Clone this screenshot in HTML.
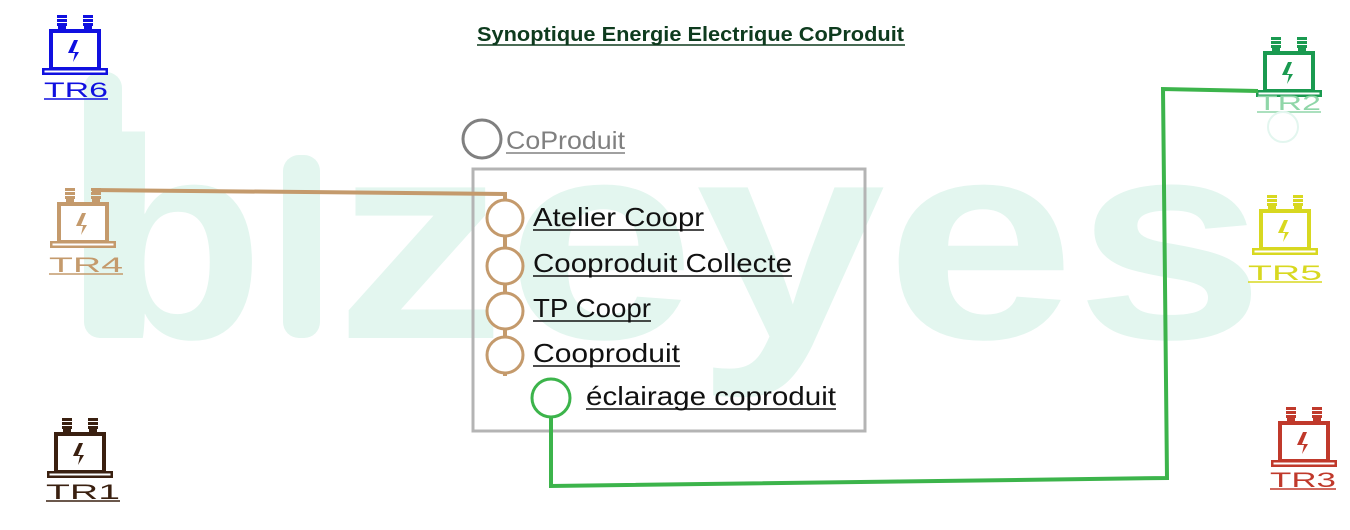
<!DOCTYPE html>
<html><head><meta charset="utf-8"><style>
body{margin:0;width:1350px;height:530px;background:#fff;overflow:hidden;font-family:"Liberation Sans",sans-serif}
svg{position:absolute;left:0;top:0}
</style></head><body>
<svg width="1350" height="530" viewBox="0 0 1350 530">
<defs>
<g id="tr">
<rect x="15" y="0" width="10" height="3"/><rect x="15" y="4" width="10" height="3"/><rect x="15" y="8" width="10" height="3"/><rect x="16" y="11" width="8" height="5"/>
<rect x="41" y="0" width="10" height="3"/><rect x="41" y="4" width="10" height="3"/><rect x="41" y="8" width="10" height="3"/><rect x="42" y="11" width="8" height="5"/>
<rect x="9" y="16" width="48" height="38" fill="#fff" stroke-width="4" stroke="currentColor"/>
<rect x="0" y="53" width="66" height="7"/>
<rect x="2.5" y="55.5" width="61" height="2" fill="#fff"/>
<path d="M32 25 L26 38 L33 38 L31 47 L37 37 L31 37 L36 25 Z"/>
</g>
</defs>
<g fill="#e3f6ef" font-family="Liberation Sans" font-weight="bold" font-size="285">
<rect x="84" y="72" width="38" height="266" rx="16"/>
<text x="84" y="338" textLength="180" lengthAdjust="spacingAndGlyphs">b</text>
<rect x="283" y="155" width="37" height="183" rx="16"/>
<text x="335" y="338" textLength="930" lengthAdjust="spacingAndGlyphs">zeyes</text>
</g>
<text x="477" y="41" font-size="20" font-weight="bold" fill="#0e3b1e" textLength="427" lengthAdjust="spacingAndGlyphs">Synoptique Energie Electrique CoProduit</text>
<line x1="477" y1="45" x2="905" y2="45" stroke="#0e3b1e" stroke-width="1.5"/>

<g transform="translate(42,15)" fill="#1010e0" color="#1010e0"><use href="#tr"/></g>
<text x="44" y="97" font-size="21" fill="#1010e0" textLength="64" lengthAdjust="spacingAndGlyphs">TR6</text><line x1="44" y1="99" x2="108" y2="99" stroke="#1010e0" stroke-width="1.5"/>

<g transform="translate(1256,37)" fill="#1a9a50" color="#1a9a50"><use href="#tr"/></g>
<text x="1257" y="110" font-size="21" fill="#8fd6a8" textLength="64" lengthAdjust="spacingAndGlyphs">TR2</text><line x1="1257" y1="112" x2="1321" y2="112" stroke="#8fd6a8" stroke-width="1.5"/>
<circle cx="1283" cy="127" r="15" fill="none" stroke="#e3f6ef" stroke-width="2"/>

<g transform="translate(50,188)" fill="#c49a6c" color="#c49a6c"><use href="#tr"/></g>
<text x="49" y="272" font-size="21" fill="#c49a6c" textLength="74" lengthAdjust="spacingAndGlyphs">TR4</text><line x1="49" y1="274" x2="123" y2="274" stroke="#c49a6c" stroke-width="1.5"/>

<g transform="translate(1252,195)" fill="#d8d820" color="#d8d820"><use href="#tr"/></g>
<text x="1248" y="280" font-size="21" fill="#d8d820" textLength="74" lengthAdjust="spacingAndGlyphs">TR5</text><line x1="1248" y1="282" x2="1322" y2="282" stroke="#d8d820" stroke-width="1.5"/>

<g transform="translate(47,418)" fill="#3a2010" color="#3a2010"><use href="#tr"/></g>
<text x="46" y="499" font-size="21" fill="#3a2010" textLength="74" lengthAdjust="spacingAndGlyphs">TR1</text><line x1="46" y1="501" x2="120" y2="501" stroke="#3a2010" stroke-width="1.5"/>

<g transform="translate(1271,407)" fill="#c0392b" color="#c0392b"><use href="#tr"/></g>
<text x="1270" y="487" font-size="21" fill="#c0392b" textLength="66" lengthAdjust="spacingAndGlyphs">TR3</text><line x1="1270" y1="489" x2="1336" y2="489" stroke="#c0392b" stroke-width="1.5"/>

<rect x="473" y="169" width="392" height="262" fill="none" stroke="#b4b4b4" stroke-width="3"/>
<circle cx="482" cy="139" r="19" fill="none" stroke="#808080" stroke-width="3"/>
<text x="506" y="149" font-size="25" fill="#808080" textLength="119" lengthAdjust="spacingAndGlyphs">CoProduit</text><line x1="506" y1="153" x2="625" y2="153" stroke="#808080" stroke-width="1.5"/>

<polyline points="94,192 94,190 505,194 505,376" fill="none" stroke="#c49a6c" stroke-width="4"/>
<g fill="#fff" stroke="#c49a6c" stroke-width="3">
<circle cx="505" cy="218" r="18"/><circle cx="505" cy="266" r="18"/><circle cx="505" cy="311" r="18"/><circle cx="505" cy="355" r="18"/>
</g>
<g font-size="26" fill="#111">
<text x="533" y="226" textLength="171" lengthAdjust="spacingAndGlyphs">Atelier Coopr</text><line x1="533" y1="230" x2="704" y2="230" stroke="#111" stroke-width="1.5"/>
<text x="533" y="272" textLength="259" lengthAdjust="spacingAndGlyphs">Cooproduit Collecte</text><line x1="533" y1="276" x2="792" y2="276" stroke="#111" stroke-width="1.5"/>
<text x="533" y="317" textLength="118" lengthAdjust="spacingAndGlyphs">TP Coopr</text><line x1="533" y1="321" x2="651" y2="321" stroke="#111" stroke-width="1.5"/>
<text x="533" y="362" textLength="147" lengthAdjust="spacingAndGlyphs">Cooproduit</text><line x1="533" y1="366" x2="680" y2="366" stroke="#111" stroke-width="1.5"/>
<text x="586" y="405" textLength="250" lengthAdjust="spacingAndGlyphs">éclairage coproduit</text><line x1="586" y1="409" x2="836" y2="409" stroke="#111" stroke-width="1.5"/>
</g>
<polyline points="551,418 551,486 1167,478 1163,89 1258,91" fill="none" stroke="#3cb44b" stroke-width="4"/>
<circle cx="551" cy="398" r="19" fill="#fff" stroke="#3cb44b" stroke-width="3"/>
</svg>
</body></html>
